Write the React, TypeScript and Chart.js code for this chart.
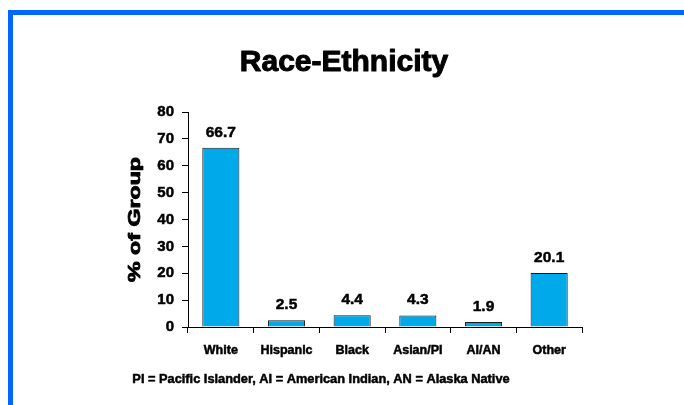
import React, { useEffect, useRef } from 'react';
import { Chart, registerables } from 'chart.js';

Chart.register(...registerables);

const categories = ['White', 'Hispanic', 'Black', 'Asian/PI', 'AI/AN', 'Other'];
const percentValues = [66.7, 2.5, 4.4, 4.3, 1.9, 20.1];
const titleText = 'Race-Ethnicity';
const yAxisTitle = '% of Group';
const footnoteText = 'PI = Pacific Islander, AI = American Indian, AN = Alaska Native';

const FONT = '"Liberation Sans", Arial, sans-serif';

function heavyText(ctx: CanvasRenderingContext2D, text: string, x: number, y: number, w: number) {
  ctx.fillText(text, x, y);
  ctx.lineWidth = w;
  ctx.strokeStyle = '#000';
  ctx.lineJoin = 'round';
  ctx.strokeText(text, x, y);
}

const decorPlugin = {
  id: 'decor',
  beforeDraw(chart: any) {
    const ctx = chart.ctx;
    ctx.save();
    ctx.fillStyle = '#ffffff';
    ctx.fillRect(0, 0, chart.width, chart.height);
    ctx.fillStyle = '#0066FF';
    ctx.fillRect(8, 10, 5, chart.height - 10);
    ctx.fillRect(8, 10, chart.width - 8, 5);
    ctx.restore();
  },
  afterDraw(chart: any) {
    const ctx = chart.ctx;
    const area = chart.chartArea;
    ctx.save();
    ctx.fillStyle = '#000';
    ctx.textAlign = 'center';
    ctx.textBaseline = 'alphabetic';
    ctx.font = `bold 30px ${FONT}`;
    heavyText(ctx, titleText, 344, 71, 1);
    ctx.font = `bold 12.8px ${FONT}`;
    heavyText(ctx, footnoteText, 321, 383, 0.5);
    // y-axis title, rotated and stretched
    ctx.translate(135.5, (area.top + area.bottom) / 2);
    ctx.rotate(-Math.PI / 2);
    ctx.scale(1.45, 1);
    ctx.textBaseline = 'middle';
    ctx.font = `bold 16px ${FONT}`;
    heavyText(ctx, yAxisTitle, 0, 0, 0.8);
    ctx.restore();
  },
  afterDatasetsDraw(chart: any) {
    const ctx = chart.ctx;
    const meta = chart.getDatasetMeta(0);
    ctx.save();
    ctx.fillStyle = '#000';
    ctx.textAlign = 'center';
    ctx.textBaseline = 'alphabetic';
    ctx.font = `bold 15.5px ${FONT}`;
    meta.data.forEach((bar: any, i: number) => {
      heavyText(ctx, percentValues[i].toFixed(1), bar.x, bar.y - 11, 0.5);
    });
    ctx.restore();
  },
};

export default function App() {
  const ref = useRef<HTMLCanvasElement>(null);
  useEffect(() => {
    document.body.style.margin = '0';
    const chart = new Chart(ref.current as HTMLCanvasElement, {
      type: 'bar',
      data: {
        labels: categories,
        datasets: [
          {
            data: percentValues,
            backgroundColor: '#00AAEA',
            borderColor: '#1a1a1a',
            borderWidth: 1,
            borderSkipped: 'bottom',
            categoryPercentage: 1,
            barPercentage: 0.565,
          },
        ],
      },
      options: {
        responsive: false,
        animation: false,
        devicePixelRatio: 1,
        layout: { padding: { top: 112, left: 120, right: 102, bottom: 0 } },
        plugins: {
          legend: { display: false },
          title: { display: false },
          tooltip: { enabled: false },
        },
        scales: {
          x: {
            grid: {
              offset: true,
              drawOnChartArea: false,
              drawTicks: true,
              tickLength: 6,
              color: '#000',
            },
            border: { display: true, color: '#000', width: 1 },
            ticks: {
              color: '#000',
              textStrokeColor: '#000',
              textStrokeWidth: 0.5,
              font: { family: FONT, size: 12.5, weight: 'bold' },
              padding: 10,
              maxRotation: 0,
              autoSkip: false,
            },
            afterFit(scale: any) {
              scale.height = 78;
            },
          },
          y: {
            min: 0,
            max: 80,
            grid: {
              drawOnChartArea: false,
              drawTicks: true,
              tickLength: 6,
              color: '#000',
            },
            border: { display: true, color: '#000', width: 1 },
            ticks: {
              stepSize: 10,
              color: '#000',
              textStrokeColor: '#000',
              textStrokeWidth: 0.5,
              font: { family: FONT, size: 15, weight: 'bold' },
              padding: 8,
            },
            afterFit(scale: any) {
              scale.width = 68;
            },
          },
        },
      },
      plugins: [decorPlugin],
    });
    return () => chart.destroy();
  }, []);
  return (
    <div style={{ width: 684, height: 405 }}>
      <canvas ref={ref} width={684} height={405} style={{ display: 'block' }} />
    </div>
  );
}
